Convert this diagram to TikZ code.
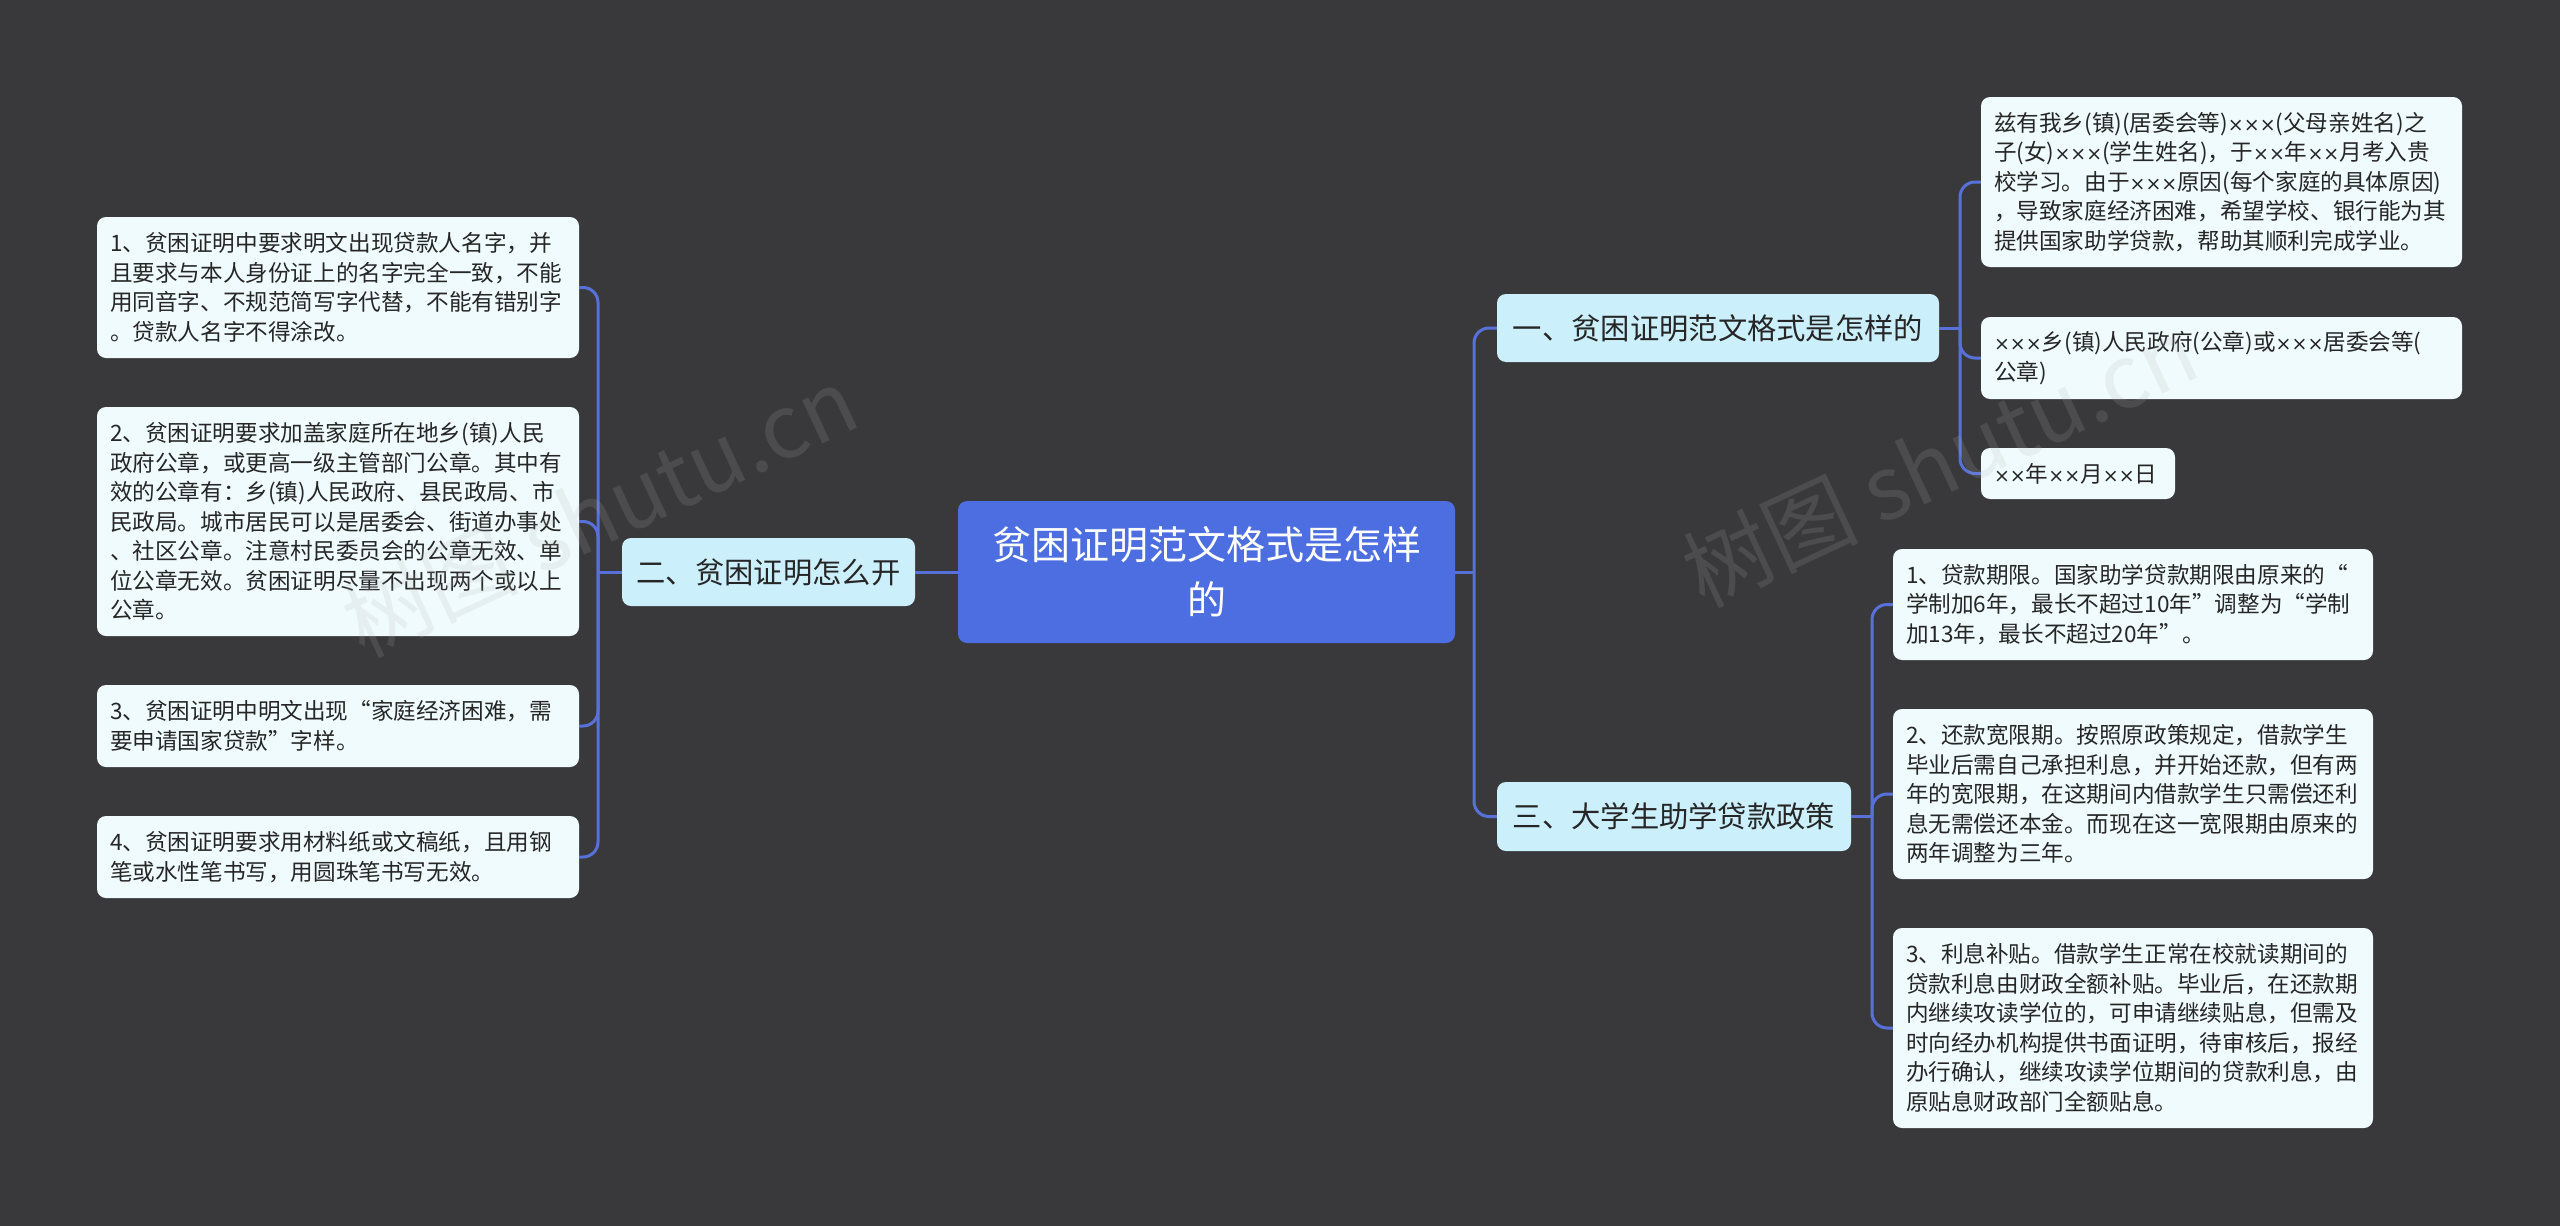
\documentclass[tikz,border=0pt]{standalone}
\usepackage{fontspec}
\setmainfont{Noto Sans CJK SC}
\newfontfamily\djv{DejaVu Sans}
\newcommand\X{{\djv\fontsize{19}{30}\selectfont ×}}
\definecolor{bgc}{RGB}{57,56,59}
\definecolor{rootc}{RGB}{76,110,224}
\definecolor{branchc}{RGB}{204,239,252}
\definecolor{leafc}{RGB}{240,251,253}
\definecolor{linec}{RGB}{87,113,216}
\definecolor{txtc}{RGB}{38,38,38}
\tikzset{
  rootbox/.style={fill=rootc, rounded corners=9pt, inner sep=0pt, align=center,
    text=white, font=\fontsize{39}{55}\selectfont},
  branchbox/.style={fill=branchc, rounded corners=9pt, inner sep=0pt, align=center,
    text=txtc, font=\fontsize{29.3}{36}\selectfont},
  leafbox/.style={fill=leafc, rounded corners=9pt, inner sep=0pt, align=left,
    text=txtc, font=\fontsize{22.6}{29.5}\selectfont},
  conn/.style={draw=linec, line width=3pt, rounded corners=15pt},
  wmark/.style={text=gray!60, opacity=0.16, font=\fontsize{88}{90}\selectfont, rotate=25, anchor=base west}
}
\begin{document}
\begin{tikzpicture}[x=1pt,y=-1pt]
\useasboundingbox (0,0) rectangle (2560,1226);
\fill[bgc] (0,0) rectangle (2560,1226);

% root and branches
\node[rootbox, minimum width=497pt, minimum height=142pt, text width=480pt] (c) at (1206.5,572) {贫困证明范文格式是怎样\\的};
\node[branchbox, minimum width=442pt, minimum height=68pt] (b1) at (1718,328) {一、贫困证明范文格式是怎样的};
\node[branchbox, minimum width=354pt, minimum height=69pt] (b3) at (1674,816.5) {三、大学生助学贷款政策};
\node[branchbox, minimum width=293pt, minimum height=68pt] (b2) at (768.5,572) {二、贫困证明怎么开};

% left leaves
\node[leafbox, minimum width=482pt, minimum height=141pt, text width=456pt] (l1) at (338,287.5) {1、贫困证明中要求明文出现贷款人名字，并\\且要求与本人身份证上的名字完全一致，不能\\用同音字、不规范简写字代替，不能有错别字\\。贷款人名字不得涂改。};
\node[leafbox, minimum width=482pt, minimum height=229pt, text width=456pt] (l2) at (338,521.5) {2、贫困证明要求加盖家庭所在地乡(镇)人民\\政府公章，或更高一级主管部门公章。其中有\\效的公章有：乡(镇)人民政府、县民政局、市\\民政局。城市居民可以是居委会、街道办事处\\、社区公章。注意村民委员会的公章无效、单\\位公章无效。贫困证明尽量不出现两个或以上\\公章。};
\node[leafbox, minimum width=482pt, minimum height=82pt, text width=456pt] (l3) at (338,726) {3、贫困证明中明文出现“家庭经济困难，需\\要申请国家贷款”字样。};
\node[leafbox, minimum width=482pt, minimum height=82pt, text width=456pt] (l4) at (338,857) {4、贫困证明要求用材料纸或文稿纸，且用钢\\笔或水性笔书写，用圆珠笔书写无效。};

% right upper leaves
\node[leafbox, minimum width=481pt, minimum height=170pt, text width=455pt] (r1) at (2221.5,182) {兹有我乡(镇)(居委会等)\X\X\X(父母亲姓名)之\\子(女)\X\X\X(学生姓名)，于\X\X 年\X\X 月考入贵\\校学习。由于\X\X\X 原因(每个家庭的具体原因)\\，导致家庭经济困难，希望学校、银行能为其\\提供国家助学贷款，帮助其顺利完成学业。};
\node[leafbox, minimum width=481pt, minimum height=82pt, text width=455pt] (r2) at (2221.5,358) {\X\X\X 乡(镇)人民政府(公章)或\X\X\X 居委会等(\\公章)};
\node[leafbox, minimum width=194pt, minimum height=51pt, text width=168pt] (r3) at (2078,473.5) {\X\X 年\X\X 月\X\X 日};

% right lower leaves
\node[leafbox, minimum width=480pt, minimum height=111pt, text width=454pt] (s1) at (2133,604.5) {1、贷款期限。国家助学贷款期限由原来的“\\学制加6年，最长不超过10年”调整为“学制\\加13年，最长不超过20年”。};
\node[leafbox, minimum width=480pt, minimum height=170pt, text width=454pt] (s2) at (2133,794) {2、还款宽限期。按照原政策规定，借款学生\\毕业后需自己承担利息，并开始还款，但有两\\年的宽限期，在这期间内借款学生只需偿还利\\息无需偿还本金。而现在这一宽限期由原来的\\两年调整为三年。};
\node[leafbox, minimum width=480pt, minimum height=200pt, text width=454pt] (s3) at (2133,1028) {3、利息补贴。借款学生正常在校就读期间的\\贷款利息由财政全额补贴。毕业后，在还款期\\内继续攻读学位的，可申请继续贴息，但需及\\时向经办机构提供书面证明，待审核后，报经\\办行确认，继续攻读学位期间的贷款利息，由\\原贴息财政部门全额贴息。};

% junctions
\coordinate (jR) at (1474,572);
\coordinate (jL) at (598,572);
\coordinate (jA) at (1960,328);
\coordinate (jB) at (1872,816.5);

% connectors
\draw[conn] (c.east) -- (jR);
\draw[conn] (jR) |- (b1.west);
\draw[conn] (jR) |- (b3.west);
\draw[conn] (c.west) -- (b2.east);
\draw[conn] (b2.west) -- (jL);
\draw[conn] (jL) |- (l1.east);
\draw[conn] (jL) |- (l2.east);
\draw[conn] (jL) |- (l3.east);
\draw[conn] (jL) |- (l4.east);
\draw[conn] (b1.east) -- (jA);
\draw[conn] (jA) |- (r1.west);
\draw[conn] (jA) |- (r2.west);
\draw[conn] (jA) |- (r3.west);
\draw[conn] (b3.east) -- (jB);
\draw[conn] (jB) |- (s1.west);
\draw[conn] (jB) |- (s2.west);
\draw[conn] (jB) |- (s3.west);

% watermark
\node[wmark] (w1) at (360,660) {树图 shutu.cn};
\node[wmark] (w2) at (1700,610) {树图 shutu.cn};
\end{tikzpicture}
\end{document}
